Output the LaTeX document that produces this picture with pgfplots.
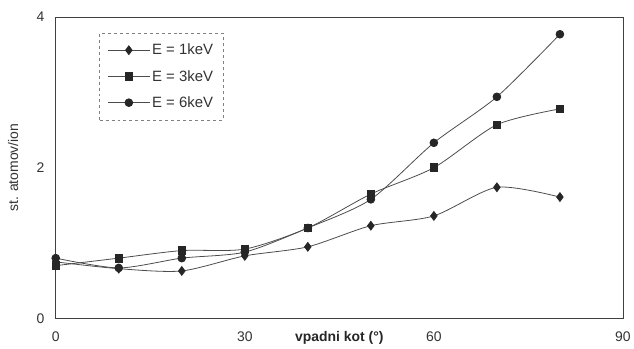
\documentclass[border=0pt]{standalone}
\usepackage{pgfplots}
\pgfplotsset{compat=1.18}
\usepackage{fontspec}
\setmainfont{Liberation Sans}
\begin{document}
\begin{tikzpicture}
\begin{axis}[
  scale only axis,
  width=570pt, height=303pt,
  xmin=0, xmax=90, ymin=0, ymax=4,
  xtick={0,30,60,90}, ytick={0,2,4},
  major tick length=0pt,
  axis line style={black!75, line width=0.8pt},
  font=\fontsize{14}{16}\selectfont,
  /pgf/number format/assume math mode=true,
  tick label style={black!80},
  xticklabel style={yshift=-10pt},
  yticklabel style={xshift=-8pt},
  xlabel={\textbf{vpadni kot (°)}},
  xlabel style={at={(axis description cs:0.5,0)}, anchor=north, yshift=-10pt, black!85},
  ylabel={st. atomov/ion},
  ylabel style={at={(axis description cs:0,0.5)}, anchor=south, yshift=34pt, black!80},
  legend style={at={(axis description cs:0.077,0.947)}, anchor=north west,
    draw=black!50, dashed, thin, row sep=10pt, inner xsep=8pt, inner ysep=9pt,
    font=\fontsize{15}{17}\selectfont, text=black!80},
  legend cell align=left,
  legend image code/.code={\draw[#1, solid] (0pt,0pt) -- (42pt,0pt); \draw[#1, solid] plot coordinates {(21pt,0pt)};},
  legend columns=1,
]
\addplot[black!70, line width=0.8pt, smooth, tension=0.45, mark=diamond*, mark size=4.4pt,
  mark options={solid, fill=black!85, draw=black!85}] coordinates {
(0,0.75) (10,0.66) (20,0.63) (30,0.83) (40,0.95) (50,1.23) (60,1.36) (70,1.74) (80,1.61)};
\addlegendentry{E = 1keV}
\addplot[black!70, line width=0.8pt, smooth, tension=0.45, mark=square*, mark size=3.8pt,
  mark options={solid, fill=black!85, draw=black!85}] coordinates {
(0,0.70) (10,0.80) (20,0.90) (30,0.92) (40,1.20) (50,1.65) (60,2.00) (70,2.57) (80,2.78)};
\addlegendentry{E = 3keV}
\addplot[black!70, line width=0.8pt, smooth, tension=0.45, mark=*, mark size=3.9pt,
  mark options={solid, fill=black!85, draw=black!85}] coordinates {
(0,0.80) (10,0.67) (20,0.80) (30,0.88) (40,1.20) (50,1.58) (60,2.33) (70,2.94) (80,3.77)};
\addlegendentry{E = 6keV}
\end{axis}
\path ([shift={(-56pt,17pt)}]current axis.north west);
\end{tikzpicture}
\end{document}
